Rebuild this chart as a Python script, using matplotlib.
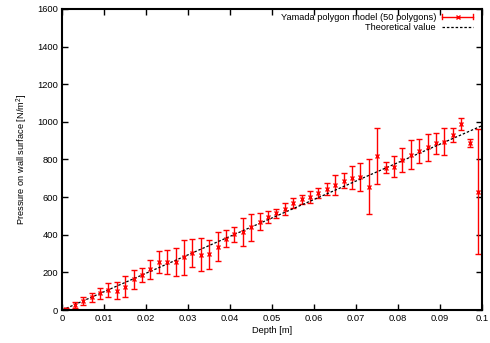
import numpy as np
import matplotlib.pyplot as plt
from matplotlib.legend_handler import HandlerBase
from matplotlib.lines import Line2D

plt.rcParams['font.family'] = ['Liberation Sans', 'DejaVu Sans']
plt.rcParams['mathtext.fontset'] = 'custom'
plt.rcParams['mathtext.rm'] = 'Liberation Sans'

# depth of each polygon sample [m]
depth = np.arange(50) * 0.002 + 0.001
pressure = [5, 28, 48, 67, 89, 106, 103, 124, 163, 188,
            216, 255, 255, 255, 280, 305, 294, 296, 337, 379,
            402, 415, 440, 470, 493, 514, 537, 567, 588, 602,
            622, 643, 664, 686, 703, 705, 656, 820, 757, 762,
            797, 824, 845, 866, 886, 895, 928, 987, 889, 629]
pressure_err = [4, 15, 20, 25, 30, 37, 46, 57, 50, 38,
                50, 60, 64, 74, 94, 74, 89, 77, 78, 44,
                41, 73, 73, 44, 31, 25, 30, 26, 26, 31,
                25, 31, 51, 40, 60, 74, 146, 148, 28, 54,
                66, 77, 65, 72, 57, 70, 37, 31, 20, 332]

theory_depth = [0.0, 0.1]
rho_g = 9800.0

RED = '#ff0000'
FS = 6.7


class GnuplotErrorHandle(HandlerBase):
    # horizontal bar with caps and a cross in the middle, like gnuplot's key
    def create_artists(self, legend, orig_handle, xdescent, ydescent,
                       width, height, fontsize, trans):
        y = height / 2 - ydescent
        x0, x1 = -xdescent, width - xdescent
        cap = height * 0.35
        artists = [
            Line2D([x0, x1], [y, y], color=RED, lw=1.0),
            Line2D([x0, x0], [y - cap, y + cap], color=RED, lw=1.0),
            Line2D([x1, x1], [y - cap, y + cap], color=RED, lw=1.0),
            Line2D([(x0 + x1) / 2], [y], color=RED, marker='x',
                   markersize=3.5, markeredgewidth=1.0, linestyle='none'),
        ]
        for a in artists:
            a.set_transform(trans)
        return artists


fig, ax = plt.subplots(figsize=(4.9, 3.43), dpi=100)
fig.subplots_adjust(left=0.127, right=0.984, bottom=0.096, top=0.974)

eb = ax.errorbar(depth, pressure, yerr=pressure_err, fmt='x', color=RED,
                 ecolor=RED, elinewidth=1.0, capsize=2.2, capthick=1.0,
                 markersize=3.5, markeredgewidth=1.0)
theory, = ax.plot(theory_depth, [d * rho_g for d in theory_depth], color='black',
                  linestyle=(0, (2, 1.5)), linewidth=0.9)

ax.set_xlim(0, 0.1)
ax.set_ylim(0, 1600)
ax.set_xticks(np.arange(0, 0.101, 0.01))
ax.set_xticklabels(['0', '0.01', '0.02', '0.03', '0.04', '0.05',
                    '0.06', '0.07', '0.08', '0.09', '0.1'])
ax.set_yticks(np.arange(0, 1601, 200))
ax.tick_params(direction='in', top=True, right=True, labelsize=FS,
               length=4, width=1.0, pad=3)
for spine in ax.spines.values():
    spine.set_linewidth(1.5)

ax.set_xlabel('Depth [m]', fontsize=FS, labelpad=2)
ax.set_ylabel('Pressure on wall surface [N/m$^2$]', fontsize=FS, labelpad=5)

proxy = Line2D([], [], color=RED)
ax.legend([proxy, theory],
          ['Yamada polygon model (50 polygons)', 'Theoretical value'],
          handler_map={proxy: GnuplotErrorHandle()},
          loc='upper right', frameon=False, fontsize=FS, markerfirst=False,
          handlelength=3.4, handletextpad=0.6, borderaxespad=0, borderpad=0,
          labelspacing=0.15, bbox_to_anchor=(0.979, 0.987))

fig.savefig('out.png', dpi=100)
